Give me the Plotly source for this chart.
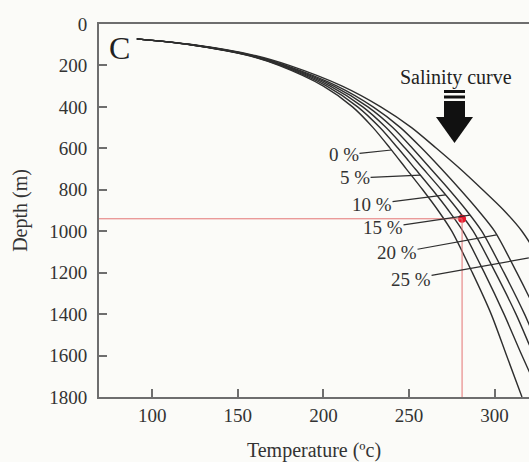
import plotly.graph_objects as go
import numpy as np

# Boiling-point / depth curves for brines of different salinity
depth_m = [72, 100, 150, 200, 300, 400, 500, 600, 700, 800, 900, 1000, 1200, 1400, 1600, 1800]

temp_s0 = [91, 122, 155, 174, 200, 217, 229, 239, 248.5, 258, 267, 275, 287, 298, 307, 316]
temp_s5 = [91, 122.3, 155.6, 175, 202, 220, 233, 243.6, 253.7, 263.7, 273.1, 281.5, 294, 305.5, 316, 327]
temp_s10 = [91, 122.6, 156.3, 176, 204, 223, 236.6, 247.8, 258.4, 268.9, 278.8, 287.5, 300.5, 312.5, 323, 334]
temp_s15 = [91, 123, 157, 177, 206, 226, 240.5, 252, 262.8, 273.5, 283.6, 292.5, 305.5, 317.5, 328, 339.5]
temp_s20 = [91, 123.3, 157.7, 178, 208, 229, 245, 257.5, 269, 280, 290.5, 300, 313, 325, 336, 348]
temp_s25 = [91, 124, 159, 180, 211, 233.5, 251.5, 266, 280, 293, 305.5, 316, 331, 344, 355, 366]

salinity_labels = ["0 %", "5 %", "10 %", "15 %", "20 %", "25 %"]
curves = [temp_s0, temp_s5, temp_s10, temp_s15, temp_s20, temp_s25]

# depth at which each label's leader meets its curve
leader_depth = [608, 729, 825, 922, 1018, 1129]

# measured homogenization point
point_temp = 281
point_depth = 940

x_ticks = [100, 150, 200, 250, 300]
y_ticks = [0, 200, 400, 600, 800, 1000, 1200, 1400, 1600, 1800]

XMIN, XMAX = 68.9, 320.1
YMIN, YMAX = 0, 1800

SERIF = "Liberation Serif, Times New Roman, serif"
INK = "#2e2e2e"
BG = "#fbfbf8"

fig = go.Figure()

for temps in curves:
    fig.add_trace(go.Scatter(
        x=temps, y=depth_m, mode="lines",
        line=dict(color=INK, width=1.4, shape="spline", smoothing=0.8),
        showlegend=False, hoverinfo="skip",
    ))

fig.add_trace(go.Scatter(
    x=[point_temp], y=[point_depth], mode="markers",
    marker=dict(color="#e8182c", size=8),
    showlegend=False, hoverinfo="skip",
))

shapes = [
    dict(type="line", xref="x", yref="y", x0=XMIN, x1=point_temp,
         y0=point_depth, y1=point_depth, line=dict(color="#e47474", width=1)),
    dict(type="line", xref="x", yref="y", x0=point_temp, x1=point_temp,
         y0=point_depth, y1=YMAX, line=dict(color="#e47474", width=1)),
]


# "Salinity curve" arrow, placed in paper coordinates
def px(x, y):
    return (x - 99) / 430, (397 - y) / 373


def rect(x0, y0, x1, y1):
    a = px(x0, y0)
    b = px(x1, y1)
    return dict(type="rect", xref="paper", yref="paper",
                x0=a[0], x1=b[0], y0=b[1], y1=a[1],
                fillcolor="#111", line=dict(width=0))


shapes += [rect(444, 90, 465, 93), rect(444, 95.5, 465, 98.5), rect(444, 101, 465, 118)]
p1, p2, p3 = px(436, 117), px(473, 117), px(454.5, 143)
shapes.append(dict(
    type="path", xref="paper", yref="paper",
    path=f"M {p1[0]} {p1[1]} L {p2[0]} {p2[1]} L {p3[0]} {p3[1]} Z",
    fillcolor="#111", line=dict(width=0),
))

# label text positions (temperature, depth)
label_pos = [(212, 632), (218.5, 743), (228.4, 869), (234.8, 984), (243, 1105), (251.2, 1231)]

annotations = []
for i, (lab, d) in enumerate(zip(salinity_labels, leader_depth)):
    t = float(np.interp(d, depth_m, curves[i]))
    t = min(t, XMAX - 0.1)
    tx, ty = label_pos[i]
    annotations.append(dict(
        x=t, y=d, xref="x", yref="y", ax=tx, ay=ty, axref="x", ayref="y",
        text=lab, showarrow=True, arrowhead=0, arrowwidth=1.2, arrowcolor=INK,
        font=dict(family=SERIF, size=19, color="#333"),
        standoff=0, startstandoff=0, borderpad=0,
    ))

cx, cy = px(119, 48)
annotations.append(dict(
    x=cx, y=cy, xref="paper", yref="paper", xanchor="center", yanchor="middle",
    text="C", showarrow=False, font=dict(family=SERIF, size=32, color="#222"),
))
sx, sy = px(456, 77)
annotations.append(dict(
    x=sx, y=sy, xref="paper", yref="paper", xanchor="center", yanchor="middle",
    text="Salinity curve", showarrow=False, font=dict(family=SERIF, size=20, color="#222"),
))

axis_common = dict(
    showline=True, linecolor="#6e6e6e", linewidth=2,
    ticks="inside", ticklen=8, tickwidth=1.5, tickcolor="#6e6e6e",
    showgrid=False, zeroline=False,
    tickfont=dict(family=SERIF, size=19, color="#333"),
)

fig.update_layout(
    width=529, height=462,
    margin=dict(l=99, r=0, t=24, b=65),
    paper_bgcolor=BG, plot_bgcolor=BG,
    shapes=shapes, annotations=annotations,
    xaxis=dict(range=[XMIN, XMAX], tickvals=x_ticks, mirror=True,
               title=dict(text="Temperature (ºc)", font=dict(family=SERIF, size=20, color="#333"), standoff=18),
               **axis_common),
    yaxis=dict(range=[YMAX, YMIN], tickvals=y_ticks, ticklabelstandoff=6,
               title=dict(text="Depth (m)", font=dict(family=SERIF, size=20, color="#333"), standoff=16),
               **axis_common),
)

fig.write_html("out.html")
